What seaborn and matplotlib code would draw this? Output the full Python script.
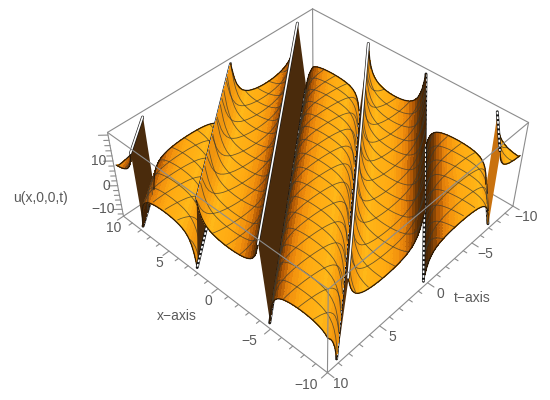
import numpy as np
import seaborn as sns
import matplotlib
matplotlib.use('Agg')
import matplotlib.pyplot as plt
from mpl_toolkits.mplot3d import proj3d

sns.set_theme(style='white')
plt.rcParams['font.family'] = ['Liberation Sans', 'DejaVu Sans']

# profile across the ridges (centre of a band outwards)
arch_off = [0, .25, .5, .75, 1, 1.25, 1.5, 1.75, 2, 2.2, 2.4, 2.55, 2.7, 2.8, 2.85]
arch_u = [4.0, 3.98, 3.92, 3.8, 3.65, 3.4, 3.1, 2.6, 1.9, 1.0, -.4, -2.1, -4.9, -8.2, -10.5]
valley_off = [0, .25, .5, .75, 1, 1.25, 1.5, 1.75, 2, 2.2, 2.4, 2.55, 2.7, 2.75]
valley_u = [9, 9.02, 9.08, 9.2, 9.35, 9.6, 9.9, 10.4, 11.1, 12, 13.4, 15.1, 17.9, 19]

# ridges run along x + slope*t = phase
slope = 0.78
band_center = [18.25, -18.05, 12.65, -12.45, 6.28, -6.28, 0]
band_kind = ['valley', 'valley', 'arch', 'arch', 'valley', 'valley', 'arch']
# how far each band sits above or below the profile at its far and near end
band_far = [-2, -2, -2, -3.5, -6, -5, -5]
band_near = [0, 0, 0, -2, 0, -2, 1]

# wall between a valley band and an arch band (indexes into band_center)
wall_valley = [0, 1, 4, 5, 4, 5]
wall_arch = [2, 3, 2, 3, 6, 6]
wall_color = ['#4a2b0c', '#c9720f', '#4a2b0c', '#b8650c', '#4a2b0c', '#5c340b']
wall_dash = [False, True, False, True, False, False]
wall_layer = [11.5, 14.5, 17.5, 20.5, 23.5, 26.5]

x_ticks = [10, 5, 0, -5, -10]
t_ticks = [10, 5, 0, -5, -10]
z_ticks = [10, 0, -10]
mesh_x = [-8.75, -7.5, -6.25, -5, -3.75, -2.5, -1.25, 0, 1.25, 2.5, 3.75, 5, 6.25, 7.5, 8.75]
lo, hi = -13, 21
gray = '#8c8c8c'
txt = '#5a5a5a'

fig = plt.figure(figsize=(5.5, 4), dpi=100)
ax = fig.add_axes([38.8 / 550, 23.7 / 400, 1, 1], projection='3d', computed_zorder=False)
ax.set_xlim(-10, 10, view_margin=0)
ax.set_ylim(-10, 10, view_margin=0)
ax.set_zlim(lo, hi, view_margin=0)
ax.set_box_aspect((1, 1, .399), zoom=1.021)
ax.set_proj_type('persp', focal_length=.462)
ax.view_init(elev=42.986, azim=132.92)
ax.set_axis_off()

shades = sns.blend_palette(['#3a1e05', '#b35a05', '#ee8a0c', '#ffaa12', '#ffb818', '#fba512', '#ea8c0c'], 181)


def seg(p, n):
    # the part of a ridge line that lies inside the square
    t0 = max(-10, (p - 10) / slope)
    t1 = min(10, (p + 10) / slope)
    return np.linspace(t0, t1, n)


def box(a, b, z=1, c=gray, lw=.8):
    ax.plot([a[0], b[0]], [a[1], b[1]], [a[2], b[2]], color=c, lw=lw, zorder=z)


def tick_label(v, pos, dx, dy, ha='center'):
    px, py, _ = proj3d.proj_transform(*pos, ax.get_proj())
    ax.annotate(str(v).replace('-', '\u2212'), (px, py), xytext=(dx, -dy), textcoords='offset pixels',
                color=txt, fontsize=10, ha=ha, va='center', zorder=70, annotation_clip=False)


# back of the box
box((10, -10, lo), (10, -10, hi))
box((10, -10, hi), (10, 10, hi))
box((10, -10, hi), (-10, -10, hi))
box((10, -10, lo), (10, 10, lo))
box((10, -10, lo), (-10, -10, lo))
box((10, 10, lo), (10, 10, hi))
box((-10, -10, lo), (-10, -10, hi))
box((-10, 10, lo), (10, 10, lo))
box((-10, 10, lo), (-10, -10, lo))

# ticks
for v in np.arange(-10, 11):
    ln = .55 if v % 5 == 0 else .3
    box((v, 10, lo), (v, 10 + ln, lo))
    box((-10, v, lo), (-10 - ln, v, lo))
for v in np.arange(-12, 21, 2):
    ln = .45 if v % 10 == 0 else .25
    box((10, 10, v), (10 + ln, 10 + ln, v))

for i, (c, kind) in enumerate(zip(band_center, band_kind)):
    off = np.array(arch_off if kind == 'arch' else valley_off)
    val = np.array(arch_u if kind == 'arch' else valley_u)
    p = np.r_[c - off[::-1], c + off[1:]]
    u = np.r_[val[::-1], val[1:]]
    keep = np.abs(p) < 17.75
    p, u = p[keep], u[keep]
    # the shift fades out towards the clipped edges of the band
    fade = 1 - np.abs(u - val[0]) / abs(val[-1] - val[0])

    n = 40
    T = np.array([seg(q, n) for q in p])
    X = p[:, None] - slope * T
    t_far, t_near = T[:, 0], T[:, -1]


    def height(t):
        s = (t - t_far) / (t_near - t_far)
        return u + fade * (band_far[i] + (band_near[i] - band_far[i]) * s)


    Z = np.array([height(T[:, j]) for j in range(n)]).T

    # angle of the facet seen across the ridge picks the shade, darker when it faces left
    g = np.diff(u) / np.diff(p)
    ang = np.degrees(np.arctan(g * np.where(g < 0, .6, .3)))
    idx = np.clip((ang + 90).astype(int), 0, 180)
    cols = np.array([shades[j] for j in idx])
    fc = np.repeat(cols[:, None, :], n - 1, axis=1)

    z = 10 + 3 * i
    ax.plot_surface(X, T, Z, facecolors=fc, rstride=1, cstride=1, shade=False,
                    linewidth=.2, edgecolor='none', antialiased=False, zorder=z)

    # mesh lines, through the profile nodes
    for m in mesh_x:
        tm = (p - m) / slope
        ok = (tm >= t_far) & (tm <= t_near)
        if ok.sum() > 1:
            ax.plot(np.full(ok.sum(), m), tm[ok], height(tm)[ok], color='#3c3a30', lw=.6, alpha=.75, zorder=z + 1)
        tm = np.full(len(p), m)
        xm = p - slope * m
        ok = np.abs(xm) <= 10
        if ok.sum() > 1:
            ax.plot(xm[ok], tm[ok], height(tm)[ok], color='#3c3a30', lw=.6, alpha=.75, zorder=z + 1)
    # boundary of the band
    ax.plot(X[:, 0], T[:, 0], Z[:, 0], color='#2a1a08', lw=.9, zorder=z + 1)
    ax.plot(X[:, -1], T[:, -1], Z[:, -1], color='#2a1a08', lw=.9, zorder=z + 1)

# walls, drawn between neighbouring bands
for i in range(len(wall_color)):
    cv, ca = band_center[wall_valley[i]], band_center[wall_arch[i]]
    s = 1 if ca > cv else -1
    top, bot = cv + s * valley_off[-1], ca - s * arch_off[-1]
    T = np.array([seg(bot, 2), seg(top, 2)])
    X = np.array([bot, top])[:, None] - slope * T
    Z = np.array([[arch_u[-1]] * 2, [valley_u[-1]] * 2])
    z = wall_layer[i]
    ax.plot_surface(X, T, Z, color=wall_color[i], shade=False, linewidth=0, zorder=z)
    for row in (0, 1):
        ax.plot(X[row], T[row], Z[row], color='#141414', lw=2.1, zorder=z + .5)
        ls = (0, (1.6, 1.2)) if (wall_dash[i] or row == 0) else '-'
        ax.plot(X[row], T[row], Z[row], color='white', lw=1.2, ls=ls, zorder=z + .6)

# front of the box, over the surface
box((-10, 10, hi), (10, 10, hi), z=60)
box((-10, 10, hi), (-10, -10, hi), z=60)
box((-10, 10, lo), (-10, 10, hi), z=60)

for v in x_ticks:
    tick_label(v, (v, 10, lo), -21 if v < 0 else -10, 12)
for v in t_ticks:
    tick_label(v, (-10, v, lo), 13, 11)
for v in z_ticks:
    tick_label(v, (10, 10, v), -7, 0, ha='right')

# the plot box pokes out of the square the 3d axes keeps for itself
for art in ax.get_children():
    art.set_clip_on(False)

fig.text(40 / 550, 1 - 198 / 400, 'u(x,0,0,t)', color=txt, fontsize=10, ha='center', va='center')
fig.text(177 / 550, 1 - 316 / 400, 'x\u2212axis', color=txt, fontsize=10, ha='center', va='center')
fig.text(472 / 550, 1 - 298 / 400, 't\u2212axis', color=txt, fontsize=10, ha='center', va='center')

fig.savefig('out.png', dpi=100)
